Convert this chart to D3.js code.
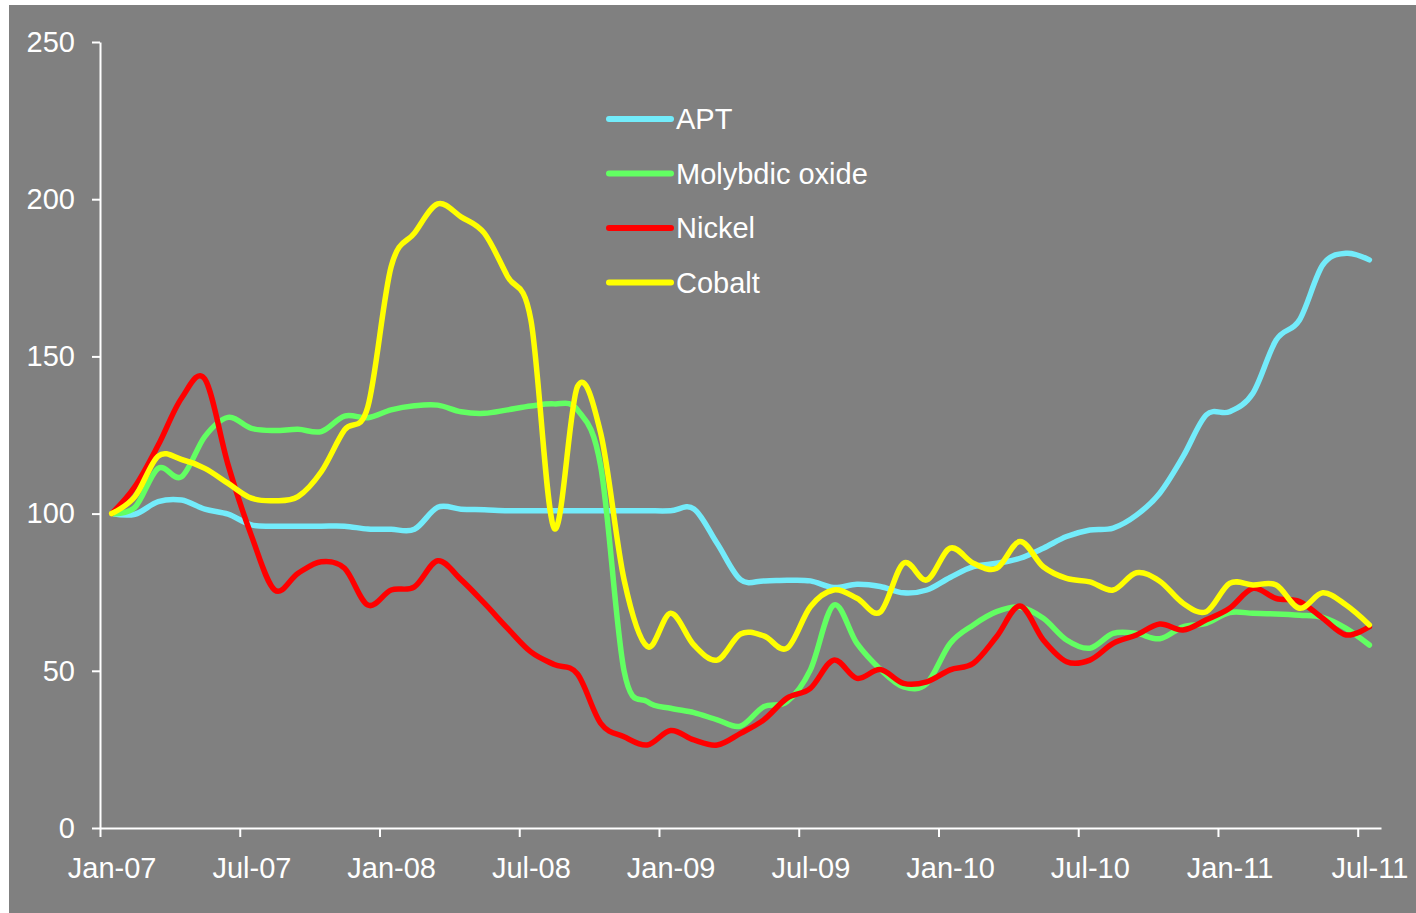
<!DOCTYPE html>
<html>
<head>
<meta charset="utf-8">
<script src="https://cdn.jsdelivr.net/npm/d3@7"></script>
<style>
  html, body { margin: 0; padding: 0; background: #ffffff; }
  svg { display: block; }
  text { font-family: "Liberation Sans", Arial, sans-serif; fill: #ffffff; }
</style>
</head>
<body>
<svg id="chart" width="1416" height="913"></svg>
<script>
// Monthly price indices, Jan-2007 = 100, one value per month Jan-07 .. Jul-11
const months = d3.timeMonth.range(new Date(2007, 0, 1), new Date(2011, 7, 1));

const apt = [100, 99.8, 103.8, 104.3, 101.4, 99.8, 96.4, 96, 96, 96, 96, 95.1,
  95, 95, 102, 101.4, 101.2, 100.9, 100.9, 100.9, 100.9, 100.9, 100.9, 100.9,
  100.9, 101.5, 90.5, 79, 78.6, 78.8, 78.6, 76.5, 77.5, 76.8, 74.8, 75.7,
  79.7, 83.1, 84.2, 85.8, 89, 92.7, 94.8, 95.4, 99.5, 106.5, 118.1, 131.4,
  132.4, 138.3, 155.2, 161.6, 179.1, 182.8, 180.7];

const molybdicOxide = [100, 102, 114.4, 111.7, 124.5, 130.6, 127.1, 126.4, 126.8, 126.1, 131, 130.5,
  133, 134.3, 134.5, 132.4, 131.9, 133, 134.2, 134.9, 133, 115, 50, 40.2,
  38.1, 36.7, 34.4, 32.4, 38.6, 40.2, 50.3, 70.9, 58.7, 50.5, 44.9, 46,
  58.7, 64.6, 68.8, 70.2, 66.7, 59.8, 57.2, 61.9, 61.9, 60.2, 64, 65.1,
  68.5, 68.3, 68.1, 67.7, 67, 63.5, 58.2];

const nickel = [100, 108.6, 121.8, 136.7, 142.8, 115.5, 93, 75.7, 81, 84.7, 82.6, 70.9,
  75.7, 76.7, 85, 79, 71.5, 63.5, 56, 52, 49, 33.3, 29, 26.4,
  31, 28, 26.4, 30.1, 34.4, 41.3, 44.4, 53.4, 47.6, 50.4, 46, 46.5,
  50.3, 52.4, 60.9, 70.6, 59.8, 52.9, 53.4, 58.7, 61.4, 64.9, 63, 66.2,
  69.9, 76.2, 73, 72, 66.7, 61.4, 64];

const cobalt = [100, 105.4, 118.3, 117.2, 114.4, 109.6, 104.9, 104.1, 105.4, 113.3, 126.6, 134,
  178.5, 189.2, 198.5, 194.4, 189.2, 175.4, 161.6, 95.3, 140.4, 125.5, 79, 57.7,
  68.3, 58.2, 53.4, 61.7, 61.1, 57.2, 70.4, 75.7, 73.1, 68.7, 84.2, 78.9,
  89, 84.2, 82.6, 91.1, 83.1, 79.4, 78.3, 75.7, 81.2, 78.5, 71.5, 68.8,
  77.8, 77.3, 77.3, 69.9, 74.8, 70.9, 64.6];

const seriesNames = ["APT", "Molybdic oxide", "Nickel", "Cobalt"];
const seriesValues = [apt, molybdicOxide, nickel, cobalt];
const seriesColors = ["#73ecfb", "#62ff62", "#ff0000", "#ffff00"];

const xTickLabels = ["Jan-07", "Jul-07", "Jan-08", "Jul-08", "Jan-09", "Jul-09",
  "Jan-10", "Jul-10", "Jan-11", "Jul-11"];
const yTicks = [0, 50, 100, 150, 200, 250];

const svg = d3.select("#chart");

// chart background panel
svg.append("rect")
  .attr("x", 9).attr("y", 5)
  .attr("width", 1416 - 9).attr("height", 913 - 5)
  .attr("fill", "#808080");

// x: month index, each month occupies one slot; points sit in the slot centre
const x = d3.scaleLinear().domain([0, months.length]).range([100, 1381]);
const y = d3.scaleLinear().domain([0, 250]).range([828, 42]);
const half = x(0.5) - x(0);

// y axis
const yAxis = svg.append("g")
  .attr("transform", `translate(${x(0)},0)`)
  .call(d3.axisLeft(y).tickValues(yTicks).tickSize(8).tickSizeOuter(0).tickPadding(17));

// x axis: ticks on slot boundaries every six months, labels under the slot centres
const xAxis = svg.append("g")
  .attr("transform", `translate(0,${y(0)})`)
  .call(d3.axisBottom(x)
    .tickValues(d3.range(0, months.length, 6))
    .tickFormat((d, i) => xTickLabels[i])
    .tickSize(9).tickSizeOuter(0).tickPadding(20));
xAxis.selectAll(".tick text").attr("x", half);

[yAxis, xAxis].forEach(g => {
  g.select(".domain").attr("stroke", "#ffffff").attr("stroke-width", 2);
  g.selectAll(".tick line").attr("stroke", "#ffffff").attr("stroke-width", 2);
  g.selectAll(".tick text")
    .attr("fill", "#ffffff")
    .style("font-family", '"Liberation Sans", Arial, sans-serif')
    .style("font-size", "29px");
});

// smoothed series lines
const line = d3.line()
  .x((d, i) => x(i + 0.5))
  .y(d => y(d))
  .curve(d3.curveCatmullRom.alpha(0));

svg.append("g")
  .selectAll("path")
  .data(seriesValues)
  .join("path")
  .attr("d", line)
  .attr("fill", "none")
  .attr("stroke", (d, i) => seriesColors[i])
  .attr("stroke-width", 5.5)
  .attr("stroke-linejoin", "round")
  .attr("stroke-linecap", "round");

// legend
const legend = svg.append("g").attr("transform", "translate(609,119)");
const item = legend.selectAll("g")
  .data(seriesNames)
  .join("g")
  .attr("transform", (d, i) => `translate(0,${i * 54.5})`);
item.append("line")
  .attr("x1", 0).attr("x2", 62)
  .attr("stroke", (d, i) => seriesColors[i])
  .attr("stroke-width", 6)
  .attr("stroke-linecap", "round");
item.append("text")
  .attr("x", 67).attr("dy", "0.36em")
  .style("font-size", "29px")
  .text(d => d);
</script>
</body>
</html>
